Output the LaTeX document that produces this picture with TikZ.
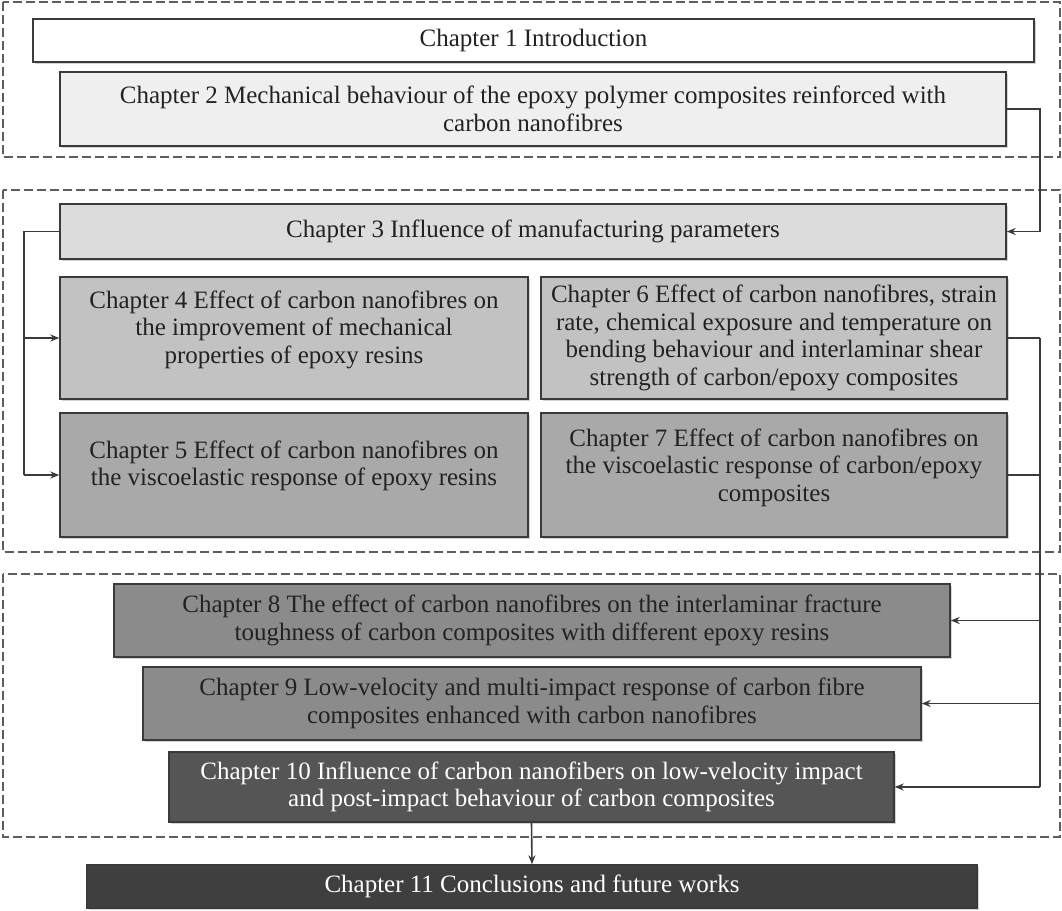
\documentclass[tikz,border=0pt]{standalone}
\usepackage{fontspec}
\setmainfont{Liberation Serif}
\usetikzlibrary{arrows.meta,shadows}
\definecolor{c1}{HTML}{FFFFFF}
\definecolor{c2}{HTML}{EFEFEF}
\definecolor{c3}{HTML}{DCDCDC}
\definecolor{c4}{HTML}{C2C2C2}
\definecolor{c5}{HTML}{A9A9A9}
\definecolor{c8}{HTML}{8B8B8B}
\definecolor{c10}{HTML}{555555}
\definecolor{c11}{HTML}{3F3F3F}
\definecolor{bord}{HTML}{3A3A3A}
\definecolor{frame}{HTML}{5E5E5E}
\definecolor{txt}{HTML}{222222}
\begin{document}
\begin{tikzpicture}[x=1pt,y=-1pt,
  chbox/.style={draw=bord,line width=1.4pt,align=center,inner sep=0pt,text=txt,
    font=\fontsize{25}{27.5}\selectfont,
    drop shadow={shadow xshift=1.5pt,shadow yshift=-1.5pt,opacity=0.35}},
  frm/.style={draw=frame,line width=1.8pt,dash pattern=on 9pt off 4pt},
  conn/.style={draw=bord,line width=1.6pt},
  arr/.style={conn,-{Stealth[length=9pt,width=7pt]}}]
\useasboundingbox (0,0) rectangle (1062,910);
% frames
\draw[frm] (3,2) rectangle (1060,157);
\draw[frm] (3,190) rectangle (1060,552);
\draw[frm] (3,574) rectangle (1060,837);
% boxes
\node[chbox,fill=c1,minimum width=1001pt,minimum height=43pt] (ch1) at (533.5,40.5) {Chapter 1 Introduction};
\node[chbox,fill=c2,minimum width=946pt,minimum height=74pt] (ch2) at (533,109) {Chapter 2 Mechanical behaviour of the epoxy polymer composites reinforced with\\carbon nanofibres};
\node[chbox,fill=c3,minimum width=946pt,minimum height=55pt] (ch3) at (533,231.5) {Chapter 3 Influence of manufacturing parameters};
\node[chbox,fill=c4,minimum width=468pt,minimum height=122pt] (ch4) at (294,338) {Chapter 4 Effect of carbon nanofibres on\\the improvement of mechanical\\properties of epoxy resins\\[-5.5pt]};
\node[chbox,fill=c4,minimum width=466pt,minimum height=122pt] (ch6) at (774,338) {Chapter 6 Effect of carbon nanofibres, strain\\rate, chemical exposure and temperature on\\bending behaviour and interlaminar shear\\strength of carbon/epoxy composites};
\node[chbox,fill=c5,minimum width=468pt,minimum height=124pt] (ch5) at (294,475) {Chapter 5 Effect of carbon nanofibres on\\the viscoelastic response of epoxy resins\\[-4pt]};
\node[chbox,fill=c5,minimum width=466pt,minimum height=124pt] (ch7) at (774,475) {Chapter 7 Effect of carbon nanofibres on\\the viscoelastic response of carbon/epoxy\\composites\\[-7pt]};
\node[chbox,fill=c8,minimum width=836pt,minimum height=73pt] (ch8) at (532,620.5) {Chapter 8 The effect of carbon nanofibres on the interlaminar fracture\\toughness of carbon composites with different epoxy resins};
\node[chbox,fill=c8,minimum width=778pt,minimum height=73pt] (ch9) at (532,703.5) {Chapter 9 Low-velocity and multi-impact response of carbon fibre\\composites enhanced with carbon nanofibres};
\node[chbox,fill=c10,text=white,minimum width=725pt,minimum height=70pt] (ch10) at (531.5,787) {Chapter 10 Influence of carbon nanofibers on low-velocity impact\\and post-impact behaviour of carbon composites};
\node[chbox,fill=c11,text=white,minimum width=890pt,minimum height=43pt] (ch11) at (532,886.5) {Chapter 11 Conclusions and future works};
% connectors
\coordinate (rx) at (1040,0);
\coordinate (lx) at (24,0);
\draw[arr] (ch2.east) -- (ch2.east -| rx) |- (ch3.east);
\draw[conn] (ch3.west) -- (ch3.west -| lx) -- (ch5.west -| lx);
\draw[arr] (ch4.west -| lx) -- (ch4.west);
\draw[arr] (ch5.west -| lx) -- (ch5.west);
\draw[conn] (ch6.east) -- (ch6.east -| rx);
\draw[conn] (ch7.east) -- (ch7.east -| rx);
\draw[conn] (ch6.east -| rx) -- (ch10.east -| rx);
\draw[arr] (ch8.east -| rx) -- (ch8.east);
\draw[arr] (ch9.east -| rx) -- (ch9.east);
\draw[arr] (ch10.east -| rx) -- (ch10.east);
\draw[arr] (ch10.south) -- (ch11.north);
\end{tikzpicture}
\end{document}
